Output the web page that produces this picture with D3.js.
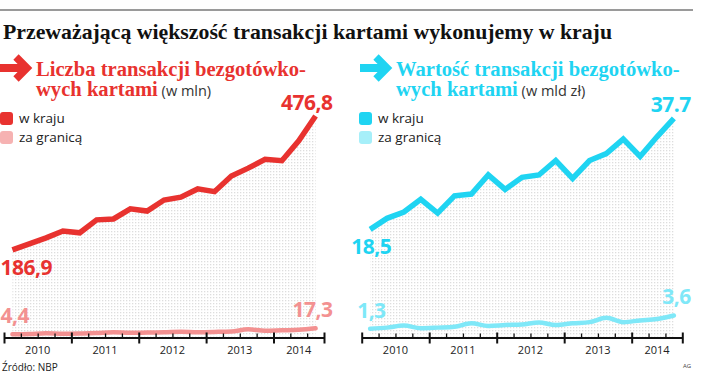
<!DOCTYPE html>
<html>
<head>
<meta charset="utf-8">
<script src="https://cdn.jsdelivr.net/npm/d3@7"></script>
<style>
  html, body { margin: 0; padding: 0; background: #fff; }
  svg { display: block; }
  .sans { font-family: "Open Sans", "DejaVu Sans", sans-serif; }
  .serif { font-family: "Liberation Serif", "DejaVu Serif", serif; font-weight: bold; }
</style>
</head>
<body>
<svg id="chart" width="718" height="380"></svg>
<script>
// quarterly data, Q1 2010 .. Q3 2014
const quarters = [
  '2010 Q1', '2010 Q2', '2010 Q3', '2010 Q4',
  '2011 Q1', '2011 Q2', '2011 Q3', '2011 Q4',
  '2012 Q1', '2012 Q2', '2012 Q3', '2012 Q4',
  '2013 Q1', '2013 Q2', '2013 Q3', '2013 Q4',
  '2014 Q1', '2014 Q2', '2014 Q3',
];
const years = ['2010', '2011', '2012', '2013', '2014'];

// number of card transactions (mln)
const countDomestic = [186.9, 200, 213, 228, 224, 252, 254, 276, 271, 295, 301, 319, 313, 347, 364, 383, 380, 423, 476.8];
const countAbroad = [4.4, 5, 6.5, 5.5, 6, 7, 8.5, 7.5, 8, 8.5, 10, 9, 9.5, 10.5, 15, 12, 13, 14, 17.3];

// value of card transactions (bn zł)
const valueDomestic = [18.5, 20.4, 21.5, 23.7, 21.3, 24.3, 24.6, 27.9, 25.4, 27.5, 27.9, 30.4, 27.3, 30.4, 31.6, 34.1, 31.1, 34.5, 37.7];
const valueAbroad = [1.3, 1.5, 1.85, 1.4, 1.5, 1.65, 2.25, 1.8, 1.95, 2.05, 2.4, 1.95, 2.25, 2.45, 3.2, 2.45, 2.75, 3.0, 3.6];

const legendLabels = ['w kraju', 'za granicą'];

const svg = d3.select('#chart');

// dotted fill pattern under the main line
const defs = svg.append('defs');
const pat = defs.append('pattern')
  .attr('id', 'dots')
  .attr('width', 3).attr('height', 3)
  .attr('patternUnits', 'userSpaceOnUse');
pat.append('rect').attr('width', 1.3).attr('height', 1.3).attr('fill', '#dddddd');

// top rule + title
svg.append('line')
  .attr('x1', 0).attr('x2', 693).attr('y1', 10).attr('y2', 10)
  .attr('stroke', '#9a9a9a').attr('stroke-width', 2);

svg.append('text')
  .attr('class', 'serif')
  .attr('x', 3).attr('y', 39)
  .style('font-size', '21.8px')
  .attr('fill', '#111')
  .text('Przeważającą większość transakcji kartami wykonujemy w kraju');

function panel(opt) {
  const x = d3.scaleLinear().domain([0, quarters.length]).range(opt.xRange);
  const y = d3.scaleLinear().domain([0, opt.max]).range([336.3, opt.top]);
  const axisY = 337.5;
  const g = svg.append('g');

  // arrow icon
  const arrow = g.append('g').attr('transform', `translate(${opt.arrowX},0)`).attr('fill', opt.main).attr('stroke', opt.main);
  arrow.append('rect').attr('x', 0).attr('y', 64).attr('width', 26).attr('height', 8).attr('stroke', 'none');
  arrow.append('polyline')
    .attr('points', '16,57 27,68 16,79')
    .attr('fill', 'none')
    .attr('stroke-width', 7.5)
    .attr('stroke-linejoin', 'miter');

  // heading
  g.append('text').attr('class', 'serif')
    .attr('x', opt.headX).attr('y', 76)
    .style('font-size', '20.6px').attr('fill', opt.main)
    .text(opt.head1);
  const h2 = g.append('text').attr('class', 'serif')
    .attr('x', opt.headX).attr('y', 96)
    .style('font-size', '20.6px').attr('fill', opt.main);
  h2.append('tspan').text(opt.head2);
  h2.append('tspan')
    .attr('class', 'sans')
    .style('font-weight', 'normal').style('font-size', '14.5px')
    .attr('fill', '#333')
    .text(' ' + opt.unit);

  // legend
  const lg = g.append('g').attr('transform', `translate(${opt.legendX},0)`);
  [opt.main, opt.legendLight].forEach((c, i) => {
    lg.append('rect')
      .attr('x', 0).attr('y', 112 + i * 19).attr('width', 13).attr('height', 13)
      .attr('rx', 3).attr('fill', c);
    lg.append('text').attr('class', 'sans')
      .attr('x', 19).attr('y', 123 + i * 19)
      .style('font-size', '13.5px').attr('fill', '#222')
      .text(legendLabels[i]);
  });

  const px = (d, i) => x(i + 0.5);

  // dotted area under main line
  const area = d3.area().x(px).y0(axisY - 1).y1((d) => y(d));
  g.append('path').datum(opt.domestic).attr('d', area).attr('fill', 'url(#dots)');

  // lines
  const line = d3.line().x(px).y((d) => y(d));
  g.append('path').datum(opt.abroad)
    .attr('d', line.curve(d3.curveMonotoneX))
    .attr('fill', 'none').attr('stroke', opt.light)
    .attr('stroke-width', 4.5).attr('stroke-linecap', 'round');
  g.append('path').datum(opt.domestic)
    .attr('d', d3.line().x(px).y((d) => y(d)))
    .attr('fill', 'none').attr('stroke', opt.main)
    .attr('stroke-width', 5.5).attr('stroke-linejoin', 'miter').attr('stroke-linecap', 'butt');

  // axis: quarter boundaries, year boundaries as major ticks
  const bounds = d3.range(quarters.length + 1);
  const yearStarts = [0];
  quarters.forEach((q, i) => { if (i > 0 && q.slice(0, 4) !== quarters[i - 1].slice(0, 4)) yearStarts.push(i); });
  const isMajor = (d) => yearStarts.includes(d) || d === quarters.length;
  const ax = g.append('g').attr('transform', `translate(0,${axisY})`)
    .call(d3.axisBottom(x).tickValues(bounds).tickFormat('').tickSizeOuter(0));
  ax.select('.domain').attr('stroke', '#111').attr('stroke-width', 2);
  ax.selectAll('.tick line')
    .attr('stroke', '#111')
    .attr('stroke-width', (d) => (isMajor(d) ? 2 : 1.3))
    .attr('y1', (d) => (isMajor(d) ? -5 : -4))
    .attr('y2', (d) => (isMajor(d) ? 6 : 0));

  // year labels centred in each year segment
  const yearEnds = yearStarts.slice(1).concat([quarters.length]);
  g.selectAll('.yr').data(years).enter().append('text')
    .attr('class', 'sans yr')
    .attr('x', (d, i) => x((yearStarts[i] + yearEnds[i]) / 2))
    .attr('y', 354)
    .attr('text-anchor', 'middle')
    .style('font-size', '11px').attr('fill', '#222')
    .text((d) => d);

  // value labels
  const n = quarters.length - 1;
  const lab = (txt, xx, yy, color, anchor) => g.append('text').attr('class', 'sans')
    .attr('x', xx).attr('y', yy).attr('text-anchor', anchor || 'start')
    .style('font-size', '21px').style('font-weight', 'bold').style('letter-spacing', '-0.5px')
    .attr('fill', color).text(txt);
  const fmt = (v, sep) => String(v).replace('.', sep);
  lab(fmt(opt.domestic[0], ','), px(0, 0) + opt.firstDx, y(opt.domestic[0]) + 25, opt.main);
  lab(fmt(opt.domestic[n], opt.lastSep), px(0, n) + 17, y(opt.domestic[n]) - 6, opt.main, 'end');
  lab(fmt(opt.abroad[0], ','), px(0, 0) + opt.firstDx + opt.abroadDx, y(opt.abroad[0]) - 11, opt.light);
  lab(fmt(opt.abroad[n], ','), px(0, n) + 17, y(opt.abroad[n]) - 11, opt.light, 'end');
}

panel({
  xRange: [4, 324], max: 476.8, top: 116,
  main: '#e8322f', light: '#f39191', legendLight: '#f6b2b2',
  domestic: countDomestic, abroad: countAbroad,
  arrowX: 0, headX: 36, legendX: 0,
  head1: 'Liczba transakcji bezgotówko-', head2: 'wych kartami', unit: '(w mln)',
  firstDx: -12, abroadDx: 0, lastSep: ',',
});

panel({
  xRange: [361.7, 682.3], max: 37.7, top: 118.3,
  main: '#1fd4f2', light: '#7fe8f8', legendLight: '#a6eff9',
  domestic: valueDomestic, abroad: valueAbroad,
  arrowX: 360, headX: 396, legendX: 359,
  head1: 'Wartość transakcji bezgotówko-', head2: 'wych kartami', unit: '(w mld zł)',
  firstDx: -19, abroadDx: 6, lastSep: '.',
});

svg.append('text').attr('class', 'sans')
  .attr('x', 2).attr('y', 371)
  .style('font-size', '10px').attr('fill', '#222')
  .text('Źródło: NBP');
svg.append('text').attr('class', 'sans')
  .attr('x', 683).attr('y', 368)
  .style('font-size', '6px').attr('fill', '#444')
  .text('AG');
</script>
</body>
</html>
